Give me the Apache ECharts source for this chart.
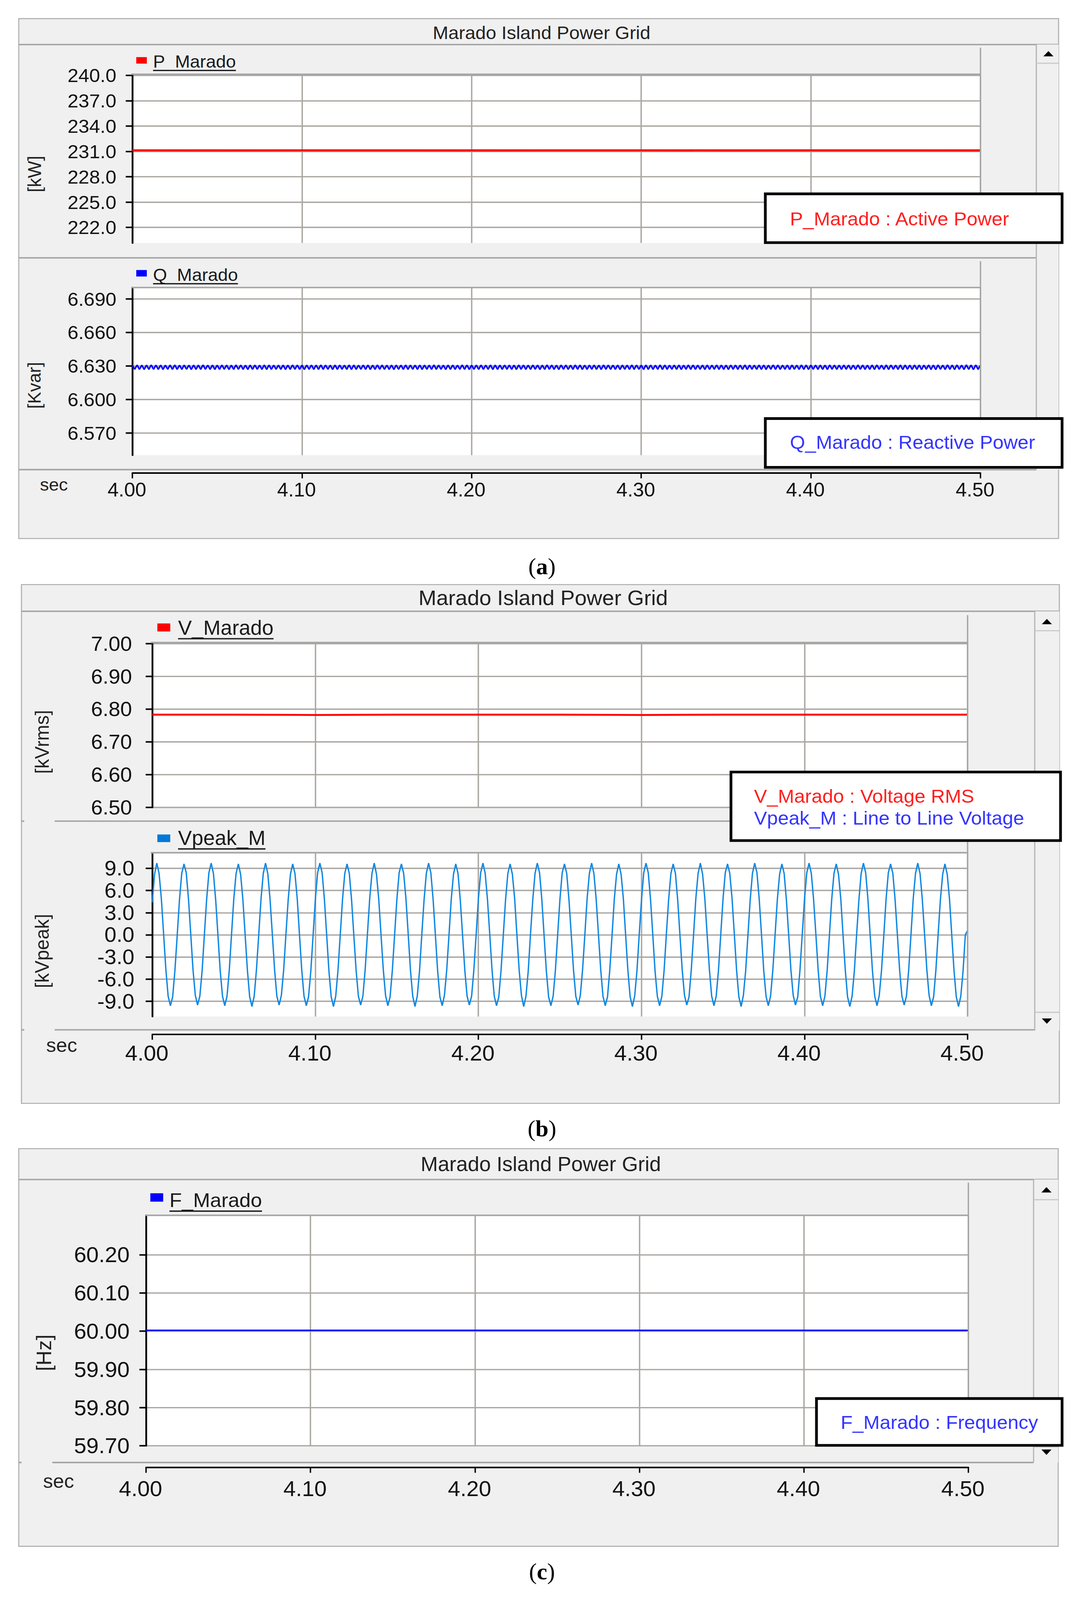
<!DOCTYPE html>
<html>
<head>
<meta charset="utf-8">
<script src="https://cdn.jsdelivr.net/npm/echarts/dist/echarts.min.js"></script>
<style>
html,body{margin:0;padding:0;overflow:hidden;background:#fff}
#wrap{position:absolute;left:0;top:0;width:2771px;height:4201px;transform-origin:0 0}
#c{width:2771px;height:4201px}
</style>
</head>
<body>
<div id="wrap"><div id="c"></div></div>
<script>
// ================= DATA =================
const panelTitle = 'Marado Island Power Grid';
const captionLetters = ['a', 'b', 'c'];
const seriesNames = ['P_Marado', 'Q_Marado', 'V_Marado', 'Vpeak_M', 'F_Marado'];
const unitLabels = ['[kW]', '[Kvar]', '[kVrms]', '[kVpeak]', '[Hz]'];
const noteTexts = ['P_Marado : Active Power', 'Q_Marado : Reactive Power',
  'V_Marado : Voltage RMS', 'Vpeak_M : Line to Line Voltage', 'F_Marado : Frequency'];
const timeTicks = [4.00, 4.10, 4.20, 4.30, 4.40, 4.50];
const pTicks = [222, 225, 228, 231, 234, 237, 240];
const qTicks = [6.570, 6.600, 6.630, 6.660, 6.690];
const vTicks = [6.50, 6.60, 6.70, 6.80, 6.90, 7.00];
const vpeakTicks = [-9, -6, -3, 0, 3, 6, 9];
const fTicks = [59.70, 59.80, 59.90, 60.00, 60.10, 60.20];

// slowly varying signals, read every 0.05 s
const slowTime = [4.00, 4.05, 4.10, 4.15, 4.20, 4.25, 4.30, 4.35, 4.40, 4.45, 4.50];
const pValues = [231.13, 231.12, 231.13, 231.13, 231.12, 231.13, 231.13, 231.12, 231.13, 231.13, 231.12];
const vValues = [6.783, 6.783, 6.782, 6.783, 6.783, 6.783, 6.782, 6.783, 6.783, 6.783, 6.783];
const fValues = [60.002, 60.002, 60.002, 60.002, 60.002, 60.002, 60.002, 60.002, 60.002, 60.002, 60.002];

// sampled signals, one sample every 1/720 s starting at 4.00 s
const sampleStart = 4.0;
const sampleStep = 1 / 720;
const qValues = [
6.6306,6.6271,6.6308,6.6270,6.6307,6.6269,6.6308,6.6270,6.6309,6.6271,6.6307,6.6270,6.6308,6.6269,6.6307,6.6271,6.6308,6.6270,6.6309,6.6270,
6.6307,6.6270,6.6308,6.6271,6.6307,6.6269,6.6308,6.6270,6.6308,6.6270,6.6309,6.6271,6.6307,6.6270,6.6308,6.6269,6.6307,6.6270,6.6308,6.6271,
6.6308,6.6269,6.6307,6.6270,6.6309,6.6271,6.6308,6.6270,6.6307,6.6269,6.6308,6.6270,6.6308,6.6271,6.6307,6.6270,6.6309,6.6269,6.6308,6.6270,
6.6307,6.6271,6.6308,6.6270,6.6308,6.6269,6.6307,6.6270,6.6309,6.6271,6.6308,6.6270,6.6307,6.6269,6.6308,6.6271,6.6308,6.6270,6.6307,6.6270,
6.6309,6.6270,6.6308,6.6271,6.6307,6.6269,6.6308,6.6270,6.6308,6.6271,6.6307,6.6270,6.6309,6.6269,6.6308,6.6270,6.6307,6.6271,6.6308,6.6270,
6.6308,6.6269,6.6307,6.6270,6.6309,6.6271,6.6308,6.6270,6.6307,6.6270,6.6308,6.6269,6.6308,6.6271,6.6307,6.6270,6.6309,6.6270,6.6308,6.6271,
6.6307,6.6270,6.6308,6.6269,6.6308,6.6271,6.6307,6.6270,6.6309,6.6270,6.6308,6.6271,6.6307,6.6269,6.6308,6.6270,6.6308,6.6270,6.6307,6.6271,
6.6309,6.6270,6.6308,6.6269,6.6307,6.6271,6.6308,6.6270,6.6308,6.6270,6.6307,6.6271,6.6309,6.6269,6.6308,6.6270,6.6307,6.6270,6.6308,6.6271,
6.6308,6.6270,6.6307,6.6269,6.6309,6.6271,6.6308,6.6270,6.6307,6.6270,6.6308,6.6271,6.6308,6.6269,6.6307,6.6270,6.6309,6.6271,6.6308,6.6270,
6.6307,6.6269,6.6308,6.6271,6.6308,6.6270,6.6307,6.6270,6.6309,6.6271,6.6308,6.6269,6.6307,6.6270,6.6308,6.6271,6.6308,6.6270,6.6307,6.6269,
6.6309,6.6271,6.6308,6.6270,6.6307,6.6270,6.6308,6.6269,6.6308,6.6271,6.6307,6.6270,6.6309,6.6270,6.6308,6.6271,6.6307,6.6269,6.6308,6.6270,
6.6308,6.6270,6.6307,6.6271,6.6309,6.6269,6.6308,6.6270,6.6307,6.6271,6.6308,6.6270,6.6308,6.6269,6.6307,6.6271,6.6309,6.6270,6.6308,6.6270,
6.6307,6.6271,6.6308,6.6269,6.6308,6.6270,6.6307,6.6271,6.6309,6.6270,6.6308,6.6270,6.6307,6.6269,6.6308,6.6271,6.6308,6.6270,6.6307,6.6270,
6.6309,6.6269,6.6308,6.6271,6.6307,6.6270,6.6308,6.6270,6.6308,6.6269,6.6307,6.6271,6.6309,6.6270,6.6308,6.6270,6.6307,6.6271,6.6308,6.6269,
6.6308,6.6271,6.6307,6.6270,6.6309,6.6270,6.6308,6.6269,6.6307,6.6271,6.6308,6.6270,6.6308,6.6270,6.6307,6.6269,6.6309,6.6271,6.6308,6.6270,
6.6307,6.6270,6.6308,6.6271,6.6308,6.6269,6.6307,6.6270,6.6309,6.6271,6.6308,6.6270,6.6307,6.6270,6.6308,6.6269,6.6309,6.6271,6.6307,6.6270,
6.6309,6.6269,6.6308,6.6271,6.6307,6.6270,6.6309,6.6268,6.6308,6.6271,6.6307,6.6269,6.6309,6.6270,6.6308,6.6268,6.6307,6.6271,6.6309,6.6269,
6.6308,6.6268,6.6309,6.6271,6.6307,6.6269,6.6310,6.6270,6.6308,6.6268,6.6309,6.6271,6.6307,6.6269,6.6310,6.6270,6.6308,6.6268,6.6309,6.6270,
6.6308];
const vpeakValues = [
 4.4, 8.2, 9.7, 8.3, 4.9, 0.1,-4.7,-8.3,-9.6,-8.4,-4.8,-0.1,
 4.7, 8.3, 9.6, 8.4, 4.8, 0.0,-4.8,-8.2,-9.5,-8.3,-4.9, 0.0,
 4.8, 8.4, 9.7, 8.3, 4.7,-0.1,-4.9,-8.3,-9.6,-8.3,-4.8, 0.1,
 4.9, 8.3, 9.6, 8.2, 4.8, 0.0,-4.8,-8.4,-9.7,-8.3,-4.7, 0.0,
 4.8, 8.3, 9.7, 8.3, 4.8, 0.1,-4.7,-8.3,-9.5,-8.2,-4.8, 0.0,
 4.7, 8.2, 9.6, 8.3, 4.9, 0.0,-4.8,-8.3,-9.6,-8.4,-4.9,-0.1,
 4.8, 8.4, 9.7, 8.4, 4.8, 0.0,-4.9,-8.4,-9.7,-8.3,-4.8, 0.0,
 4.8, 8.3, 9.6, 8.3, 4.7,-0.1,-4.8,-8.3,-9.5,-8.3,-4.7, 0.1,
 4.9, 8.3, 9.7, 8.2, 4.8, 0.0,-4.7,-8.2,-9.6,-8.4,-4.8, 0.0,
 4.8, 8.4, 9.6, 8.3, 4.9, 0.1,-4.8,-8.3,-9.7,-8.3,-4.9, 0.0,
 4.7, 8.3, 9.7, 8.4, 4.8, 0.0,-4.9,-8.4,-9.6,-8.2,-4.8,-0.1,
 4.8, 8.2, 9.6, 8.3, 4.7, 0.0,-4.8,-8.3,-9.5,-8.3,-4.7, 0.0,
 4.9, 8.4, 9.7, 8.3, 4.8, 0.1,-4.7,-8.3,-9.6,-8.4,-4.8, 0.0,
 4.8, 8.3, 9.6, 8.2, 4.9, 0.0,-4.8,-8.2,-9.7,-8.3,-4.9, 0.1,
 4.7, 8.3, 9.7, 8.4, 4.8,-0.1,-4.9,-8.4,-9.6,-8.3,-4.8, 0.0,
 4.8, 8.4, 9.6, 8.3, 4.7, 0.0,-4.8,-8.3,-9.5,-8.2,-4.7, 0.0,
 4.9, 8.3, 9.7, 8.3, 4.8, 0.1,-4.7,-8.3,-9.6,-8.4,-4.8,-0.1,
 4.8, 8.2, 9.6, 8.2, 4.9, 0.0,-4.8,-8.4,-9.7,-8.3,-4.9, 0.0,
 4.7, 8.4, 9.7, 8.4, 4.8, 0.0,-4.9,-8.3,-9.6,-8.3,-4.8, 0.1,
 4.8, 8.3, 9.6, 8.3, 4.7,-0.1,-4.8,-8.2,-9.5,-8.4,-4.7, 0.0,
 4.9, 8.3, 9.7, 8.2, 4.8, 0.0,-4.7,-8.3,-9.6,-8.3,-4.8, 0.0,
 4.8, 8.4, 9.6, 8.3, 4.9, 0.1,-4.8,-8.4,-9.7,-8.2,-4.9,-0.1,
 4.7, 8.3, 9.7, 8.4, 4.8, 0.0,-4.9,-8.3,-9.6,-8.3,-4.8, 0.0,
 4.8, 8.2, 9.6, 8.3, 4.7, 0.0,-4.8,-8.2,-9.5,-8.4,-4.7, 0.1,
 4.9, 8.4, 9.7, 8.3, 4.8, 0.1,-4.7,-8.3,-9.6,-8.3,-4.8, 0.0,
 4.8, 8.3, 9.6, 8.2, 4.9, 0.0,-4.8,-8.4,-9.7,-8.3,-4.9, 0.0,
 4.7, 8.3, 9.7, 8.4, 4.8,-0.1,-4.9,-8.3,-9.6,-8.2,-4.8,-0.1,
 4.8, 8.4, 9.6, 8.3, 4.7, 0.0,-4.8,-8.3,-9.5,-8.3,-4.7, 0.0,
 4.9, 8.3, 9.7, 8.3, 4.8, 0.1,-4.7,-8.2,-9.6,-8.4,-4.8, 0.1,
 4.8, 8.2, 9.6, 8.2, 4.9, 0.0,-4.8,-8.4,-9.7,-8.3,-4.9, 0.0,
 0.6];

// ================= BUILD =================
const W = 2771, H = 4201;
// fit the whole figure into the visible viewport
(function fit() {
  const vw = document.documentElement.clientWidth || window.innerWidth || W;
  const vh = document.documentElement.clientHeight || window.innerHeight || H;
  const sx = Math.min(1, vw / W), sy = Math.min(1, vh / H);
  document.getElementById('wrap').style.transform = 'scale(' + sx + ',' + sy + ')';
})();

const FONT = '"Liberation Sans", Arial, sans-serif';
const SERIF = '"Liberation Serif", "Times New Roman", serif';
const RED = '#ff0000', BLUE = '#0000ff', VPK = '#1287e0';
const NOTE_RED = '#ff1f1f', NOTE_BLUE = '#3434ff';
const PANEL = '#f0f0f0', SEP = '#a6a6a6', GRIDC = '#aaa6a1', INK = '#111';

const mctx = document.createElement('canvas').getContext('2d');
function textW(s, fs) { mctx.font = fs + 'px ' + FONT; return mctx.measureText(s).width; }

const pairs = (xs, ys) => ys.map((v, i) => [xs[i], v]);
const sampleTimes = vpeakValues.map((v, i) => sampleStart + i * sampleStep);

// plot rectangles of the five sub-charts
const plots = [
  { l: 339, t: 195, r: 2511, b: 638, hl: 336, ht: 125 },
  { l: 339, t: 755, r: 2511, b: 1195, hl: 336, ht: 686 },
  { l: 390, t: 1687, r: 2478, b: 2120, hl: 386, ht: 1615 },
  { l: 390, t: 2239, r: 2478, b: 2669, hl: 386, ht: 2165 },
  { l: 374, t: 3191, r: 2480, b: 3796, hl: 373, ht: 3105 }
];

const G = [];
function R(x0, y0, x1, y1, style, z) {
  G.push({ type: 'rect', silent: true, z: z || 0, shape: { x: x0, y: y0, width: x1 - x0, height: y1 - y0 }, style: style });
}
function Ln(x0, y0, x1, y1, color, lw, z) {
  G.push({ type: 'line', silent: true, z: z || 1, shape: { x1: x0, y1: y0, x2: x1, y2: y1 }, style: { stroke: color, lineWidth: lw } });
}
function T(x, y, s, fs, color, align, ex) {
  ex = ex || {};
  const e = { type: 'text', silent: true, z: ex.z || 6, x: x, y: y, rotation: ex.rot || 0,
    style: { text: s, fontSize: fs, fontFamily: ex.family || FONT, fontWeight: ex.weight || 'normal',
      fill: color, textAlign: align || 'left', textVerticalAlign: 'middle' } };
  if (ex.rich) e.style.rich = ex.rich;
  G.push(e);
}
function Tri(cx, cy, up) {
  const w = 13, h = 7;
  const pts = up ? [[cx - w, cy + h], [cx + w, cy + h], [cx, cy - h]] : [[cx - w, cy - h], [cx + w, cy - h], [cx, cy + h]];
  G.push({ type: 'polygon', silent: true, z: 2, shape: { points: pts }, style: { fill: '#000' } });
}
function legend(i, sq, color, tx, ty, fs, uy) {
  R(sq[0], sq[1], sq[0] + sq[2], sq[1] + sq[3], { fill: color }, 2);
  T(tx, ty, seriesNames[i], fs, '#1a1a1a', 'left');
  Ln(tx, uy, tx + textW(seriesNames[i], fs), uy, '#1a1a1a', 3.5, 2);
}
function plotFrame(p) {
  Ln(p.hl, p.t, p.r + 2, p.t, SEP, 4, 5);
  Ln(p.r, p.ht, p.r, p.b, SEP, 3.5, 5);
}
function scrollbar(x0, x1, y0, y1, upB, downB, ax, upY, downY) {
  R(x0, y0, x1, y1, { fill: PANEL }, 1);
  Ln(x0, y0, x0, y1, '#b4b4b4', 3, 2);
  Ln(x0, upB, x1, upB, '#c8c8c8', 3, 2);
  Tri(ax, upY, true);
  if (downB) { Ln(x0, downB, x1, downB, '#c8c8c8', 3, 2); Tri(ax, downY, false); }
}
function box(x0, y0, x1, y1) {
  R(x0, y0, x1, y1, { fill: '#fff', stroke: '#000', lineWidth: 7 }, 10);
}
function caption(y, letter) {
  T(1388, y, '({b|' + letter + '})', 60, '#000', 'center',
    { family: SERIF, rich: { b: { fontWeight: 'bold', fontSize: 60, fontFamily: SERIF } } });
}

// ---- panel (a) ----
R(48, 49, 2711, 1414, { fill: PANEL, stroke: '#b4b4b4', lineWidth: 3 }, 0);
T(1387, 86, panelTitle, 48, '#222', 'center');
Ln(48, 117, 2711, 117, SEP, 4);
Ln(48, 677, 2654, 677, SEP, 4);
Ln(48, 1233, 2654, 1233, SEP, 4);
scrollbar(2654, 2711, 117, 1233, 166, 0, 2685, 141, 0);
plotFrame(plots[0]); plotFrame(plots[1]);
legend(0, [349, 150, 27, 17], RED, 392, 162, 46, 185);
legend(1, [349, 709, 27, 17], BLUE, 392, 722, 46, 745);
T(88, 457, unitLabels[0], 48, '#222', 'center', { rot: Math.PI / 2 });
T(88, 1012, unitLabels[1], 47, '#222', 'center', { rot: Math.PI / 2 });
T(138, 1272, 'sec', 46, '#222', 'center');
box(1960, 509, 2720, 637); T(2023, 574, noteTexts[0], 50, NOTE_RED, 'left', { z: 11 });
box(1960, 1099, 2720, 1227); T(2023, 1161, noteTexts[1], 50, NOTE_BLUE, 'left', { z: 11 });
caption(1487, captionLetters[0]);

// ---- panel (b) ----
R(55, 1535, 2713, 2897, { fill: PANEL, stroke: '#b4b4b4', lineWidth: 3 }, 0);
T(1391, 1570, panelTitle, 55, '#222', 'center');
Ln(55, 1605, 2713, 1605, SEP, 4);
Ln(140, 2156, 2650, 2156, SEP, 4); Ln(55, 2156, 62, 2156, SEP, 4);
Ln(140, 2704, 2650, 2704, SEP, 4); Ln(55, 2704, 62, 2704, SEP, 4);
scrollbar(2650, 2713, 1605, 2706, 1656, 2658, 2681, 1632, 2681);
plotFrame(plots[2]); plotFrame(plots[3]);
legend(2, [403, 1637, 33, 21], RED, 456, 1648, 53, 1677);
legend(3, [403, 2191, 33, 20], '#0078d7', 456, 2200, 53, 2229);
T(107, 1948, unitLabels[2], 50, '#222', 'center', { rot: Math.PI / 2 });
T(107, 2497, unitLabels[3], 50, '#222', 'center', { rot: Math.PI / 2 });
T(158, 2744, 'sec', 51, '#222', 'center');
box(1872, 2027, 2716, 2207);
T(1931, 2090, noteTexts[2], 50, NOTE_RED, 'left', { z: 11 });
T(1931, 2147, noteTexts[3], 50, NOTE_BLUE, 'left', { z: 11 });
caption(2963, captionLetters[1]);

// ---- panel (c) ----
R(48, 3016, 2710, 4060, { fill: PANEL, stroke: '#b4b4b4', lineWidth: 3 }, 0);
T(1385, 3057, panelTitle, 53, '#222', 'center');
Ln(48, 3097, 2710, 3097, SEP, 4);
Ln(134, 3840, 2647, 3840, SEP, 4); Ln(48, 3840, 55, 3840, SEP, 4);
scrollbar(2647, 2710, 3097, 3840, 3150, 3799, 2680, 3124, 3813);
plotFrame(plots[4]);
legend(4, [385, 3133, 33, 22], BLUE, 434, 3152, 52, 3180);
T(112, 3552, unitLabels[4], 54, '#222', 'center', { rot: Math.PI / 2 });
T(150, 3889, 'sec', 51, '#222', 'center');
box(2091, 3672, 2720, 3795); T(2153, 3734, noteTexts[4], 50, NOTE_BLUE, 'left', { z: 11 });
caption(4126, captionLetters[2]);

// ---- grids & axes ----
const grids = plots.map(p => ({ left: p.l, top: p.t, width: p.r - p.l, height: p.b - p.t,
  show: true, backgroundColor: '#ffffff', borderWidth: 0, z: 2, containLabel: false }));

function xAxis(gi, shown, offset, fs, margin) {
  return { type: 'value', gridIndex: gi, min: 4.0, max: 4.5, z: 3, offset: offset || 0,
    axisLine: { show: shown, onZero: false, lineStyle: { color: '#000', width: 4 } },
    axisTick: { show: shown, length: 14, customValues: timeTicks, lineStyle: { color: '#000', width: 3.5 } },
    axisLabel: { show: shown, customValues: timeTicks, formatter: v => v.toFixed(2), fontSize: fs, fontFamily: FONT,
      color: INK, margin: margin, padding: [0, 28, 0, 0] },
    splitLine: { show: true, lineStyle: { color: GRIDC, width: 3.5 } } };
}
function yAxis(gi, min, max, ticks, dec, fs, margin) {
  return { type: 'value', gridIndex: gi, min: min, max: max, z: 3,
    axisLine: { show: true, onZero: false, lineStyle: { color: '#000', width: 4.5 } },
    axisTick: { show: true, inside: false, length: 17, customValues: ticks, lineStyle: { color: '#000', width: 4 } },
    axisLabel: { show: true, customValues: ticks, formatter: v => v.toFixed(dec), fontSize: fs, fontFamily: FONT,
      color: INK, margin: margin },
    splitLine: { show: true, lineStyle: { color: GRIDC, width: 3.5 } } };
}
function line(gi, data, color, width) {
  return { type: 'line', name: seriesNames[gi], xAxisIndex: gi, yAxisIndex: gi, data: data, showSymbol: false, symbol: 'none',
    lineStyle: { color: color, width: width }, itemStyle: { color: color }, z: 4, animation: false, clip: true };
}

const option = {
  backgroundColor: '#ffffff',
  animation: false,
  grid: grids,
  xAxis: [
    xAxis(0, false, 0, 51, 18),
    xAxis(1, true, 47, 51, 18),
    xAxis(2, false, 0, 57, 20),
    xAxis(3, true, 47, 57, 20),
    xAxis(4, true, 57, 57, 27)
  ],
  yAxis: [
    yAxis(0, 220.15, 240.14, pTicks, 1, 50, 41),
    yAxis(1, 6.5502, 6.7002, qTicks, 3, 50, 41),
    yAxis(2, 6.50, 7.003, vTicks, 2, 54, 52),
    yAxis(3, -11.06, 11.11, vpeakTicks, 1, 55, 46),
    yAxis(4, 59.70, 60.303, fTicks, 2, 57, 42)
  ],
  series: [
    line(0, pairs(slowTime, pValues), RED, 5.5),
    line(1, pairs(sampleTimes, qValues), BLUE, 4),
    line(2, pairs(slowTime, vValues), RED, 5),
    line(3, pairs(sampleTimes, vpeakValues), VPK, 3.5),
    line(4, pairs(slowTime, fValues), BLUE, 4)
  ],
  graphic: { elements: G }
};

const chart = echarts.init(document.getElementById('c'), null, { renderer: 'svg', width: W, height: H });
chart.setOption(option);
</script>
</body>
</html>
